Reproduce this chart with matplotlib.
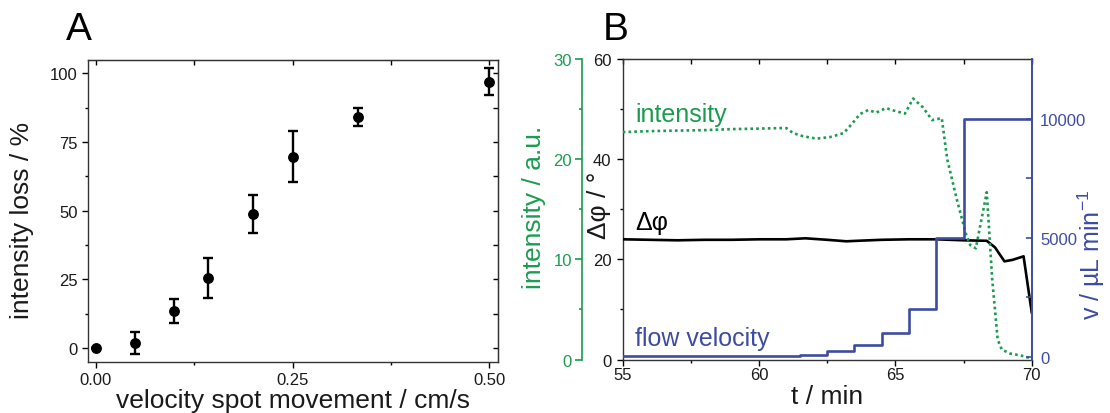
import matplotlib
matplotlib.use("Agg")
import matplotlib.pyplot as plt
from matplotlib.ticker import FixedLocator, NullFormatter, FormatStrFormatter

plt.rcParams['font.family'] = ['Liberation Sans', 'DejaVu Sans']
plt.rcParams['mathtext.fontset'] = 'custom'
plt.rcParams['mathtext.rm'] = 'Liberation Sans'
plt.rcParams['mathtext.it'] = 'Liberation Sans'

# ---------------- data: panel A ----------------
velocity = [0.0, 0.05, 0.1, 0.143, 0.2, 0.25, 0.333, 0.5]
loss = [0.0, 1.8, 13.5, 25.6, 48.8, 69.6, 84.2, 97.0]
loss_err = [0.0, 4.0, 4.4, 7.3, 6.8, 9.3, 3.3, 4.8]

# ---------------- data: panel B ----------------
t_phi = [55, 56, 57, 58, 59, 60, 61, 61.7, 62.5, 63.2, 63.6, 64.5, 65.5,
         66.5, 67.5, 68.35, 68.65, 69.0, 69.3, 69.7, 70.0]
phi = [24.0, 23.9, 23.8, 23.9, 23.9, 24.0, 24.0, 24.2, 23.9, 23.6, 23.7,
       23.9, 24.0, 24.0, 23.8, 23.7, 22.4, 19.6, 19.9, 20.6, 9.4]

t_int = [55, 56, 57, 58, 59, 60, 60.75, 61.0, 61.25, 61.6, 62.1, 62.6, 63.1,
         63.4, 63.7, 64.0, 64.3, 64.65, 65.0, 65.35, 65.65, 66.0, 66.35, 66.7,
         66.9, 67.25, 67.6, 67.75, 67.95, 68.35, 68.55, 68.75, 68.9, 69.2,
         69.6, 70.0]
intensity = [22.7, 22.8, 22.85, 22.9, 23.0, 23.05, 23.1, 23.1, 22.6, 22.3,
             22.05, 22.2, 22.6, 23.5, 24.5, 24.9, 24.65, 25.1, 24.8, 24.55,
             26.05, 25.2, 23.9, 24.1, 20.0, 16.0, 12.4, 11.4, 11.1, 16.7, 8.0,
             2.0, 1.0, 0.6, 0.4, 0.1]

t_flow = [55, 61.5, 62.5, 63.5, 64.5, 65.5, 66.5, 67.5, 70]
flow = [50, 100, 250, 500, 1000, 2000, 5000, 10000, 10000]

GREEN = '#1b9b50'
BLUE = '#3d4ca1'
TXT = '#1a1a1a'

fig = plt.figure(figsize=(11.1, 4.14), dpi=100)

# ================= Panel A =================
axA = fig.add_axes([0.0790, 0.1239, 0.3699, 0.7295])
axA.errorbar(velocity, loss, yerr=loss_err, fmt='o', color='black',
             ms=6.8, capsize=3.8, elinewidth=1.7, capthick=1.7)
axA.set_xlim(-0.0102, 0.5114)
axA.set_ylim(-5, 105)
axA.xaxis.set_major_locator(FixedLocator([0, 0.25, 0.5]))
axA.xaxis.set_minor_locator(FixedLocator([0.125, 0.375]))
axA.xaxis.set_major_formatter(FormatStrFormatter('%.2f'))
axA.yaxis.set_major_locator(FixedLocator([0, 25, 50, 75, 100]))
axA.yaxis.set_minor_locator(FixedLocator([12.5, 37.5, 62.5, 87.5]))
axA.tick_params(which='major', direction='out', length=4.5, width=1.0,
                labelsize=12, labelcolor=TXT, pad=2.5)
axA.tick_params(which='minor', direction='out', length=2.3, width=1.0)
axA.tick_params(axis='x', which='major', pad=3.0)
for s in axA.spines.values():
    s.set_linewidth(1.0)
    s.set_color('#333333')

secA_x = axA.secondary_xaxis('top')
secA_x.xaxis.set_major_locator(FixedLocator([0, 0.25, 0.5]))
secA_x.xaxis.set_minor_locator(FixedLocator([0.125, 0.375]))
secA_x.xaxis.set_major_formatter(NullFormatter())
secA_x.tick_params(which='both', direction='in', length=3.5, width=1.0)
secA_y = axA.secondary_yaxis('right')
secA_y.yaxis.set_major_locator(FixedLocator([0, 25, 50, 75, 100]))
secA_y.yaxis.set_minor_locator(FixedLocator([12.5, 37.5, 62.5, 87.5]))
secA_y.yaxis.set_major_formatter(NullFormatter())
secA_y.tick_params(which='both', direction='in', length=3.5, width=1.0)

axA.set_xlabel('velocity spot movement / cm/s', fontsize=19, color=TXT)
axA.set_ylabel('intensity loss / %', fontsize=19, color=TXT)
axA.xaxis.set_label_coords(0.501, -0.088)
axA.yaxis.set_label_coords(-0.13, 0.47)

fig.text(66 / 1110, 1 - 40 / 414, 'A', fontsize=28, va='baseline', ha='left')

# ================= Panel B =================
axB = fig.add_axes([0.5610, 0.1292, 0.3685, 0.7259])
axG = axB.twinx()
axV = axB.twinx()

axB.plot(t_phi, phi, color='black', lw=1.9, zorder=3)
axB.set_xlim(55, 70)
axB.set_ylim(0, 60)
axB.xaxis.set_major_locator(FixedLocator([55, 60, 65, 70]))
axB.xaxis.set_minor_locator(FixedLocator([57.5, 62.5, 67.5]))
axB.yaxis.set_major_locator(FixedLocator([0, 20, 40, 60]))
axB.yaxis.set_minor_locator(FixedLocator([10, 30, 50]))
axB.tick_params(which='major', direction='out', length=4.0, width=1.0,
                labelsize=12, labelcolor=TXT, pad=4)
axB.tick_params(which='minor', direction='out', length=2.3, width=1.0)
axB.tick_params(axis='x', which='major', pad=1.5)
axB.spines['right'].set_visible(False)
for k in ('left', 'top', 'bottom'):
    axB.spines[k].set_linewidth(1.0)
    axB.spines[k].set_color('#333333')

secB_x = axB.secondary_xaxis('top')
secB_x.xaxis.set_major_locator(FixedLocator([55, 60, 65, 70]))
secB_x.xaxis.set_minor_locator(FixedLocator([57.5, 62.5, 67.5]))
secB_x.xaxis.set_major_formatter(NullFormatter())
secB_x.tick_params(which='both', direction='in', length=3.5, width=1.0)

# green intensity axis (offset left)
axG.plot(t_int, intensity, color=GREEN, lw=1.9, ls=(0, (1, 1.2)), zorder=2)
axG.set_ylim(0, 30)
axG.yaxis.set_ticks_position('left')
axG.yaxis.set_label_position('left')
for k in ('right', 'top', 'bottom'):
    axG.spines[k].set_visible(False)
axG.spines['left'].set_position(('outward', 29.5))
axG.spines['left'].set_color(GREEN)
axG.spines['left'].set_linewidth(1.2)
axG.yaxis.set_major_locator(FixedLocator([0, 10, 20, 30]))
axG.yaxis.set_minor_locator(FixedLocator([5, 15, 25]))
axG.tick_params(axis='y', which='major', direction='out', length=4.8,
                width=1.2, color=GREEN, labelcolor=GREEN, labelsize=12, pad=2.2)
axG.tick_params(axis='y', which='minor', direction='out', length=2.5,
                width=1.2, color=GREEN)

# blue flow velocity axis (right)
axV.plot(t_flow, flow, color=BLUE, lw=1.9, drawstyle='steps-post', zorder=2)
axV.set_ylim(-100, 12500)
for k in ('left', 'top', 'bottom'):
    axV.spines[k].set_visible(False)
axV.spines['right'].set_color(BLUE)
axV.spines['right'].set_linewidth(1.4)
axV.yaxis.set_major_locator(FixedLocator([0, 5000, 10000]))
axV.yaxis.set_minor_locator(FixedLocator([2500, 7500]))
axV.tick_params(axis='y', which='major', direction='in', length=4.5,
                width=1.2, color=BLUE, labelcolor=BLUE, labelsize=12, pad=6)
axV.tick_params(axis='y', which='minor', direction='in', length=4.5,
                width=1.2, color=BLUE)

axB.set_xlabel('t / min', fontsize=19, color=TXT)
axB.xaxis.set_label_coords(0.5, -0.08)
axB.set_ylabel('Δφ / °', fontsize=19, color=TXT)
axB.yaxis.set_label_coords(-0.028, 0.515)
axG.set_ylabel('intensity / a.u.', fontsize=19, color=GREEN)
axG.yaxis.set_label_coords(-0.187, 0.51)
axV.set_ylabel('v / µL min$^{-1}$', fontsize=18, color=BLUE)
axV.yaxis.set_label_coords(1.108, 0.35)

axB.text(0.030, 0.795, 'intensity', transform=axB.transAxes, fontsize=18,
         color=GREEN, va='baseline', ha='left')
axB.text(0.030, 0.434, 'Δφ', transform=axB.transAxes, fontsize=18,
         color='black', va='baseline', ha='left')
axB.text(0.030, 0.047, 'flow velocity', transform=axB.transAxes, fontsize=18,
         color=BLUE, va='baseline', ha='left')

fig.text(603 / 1110, 1 - 40 / 414, 'B', fontsize=28, va='baseline', ha='left')

fig.savefig('out.png', dpi=100)
